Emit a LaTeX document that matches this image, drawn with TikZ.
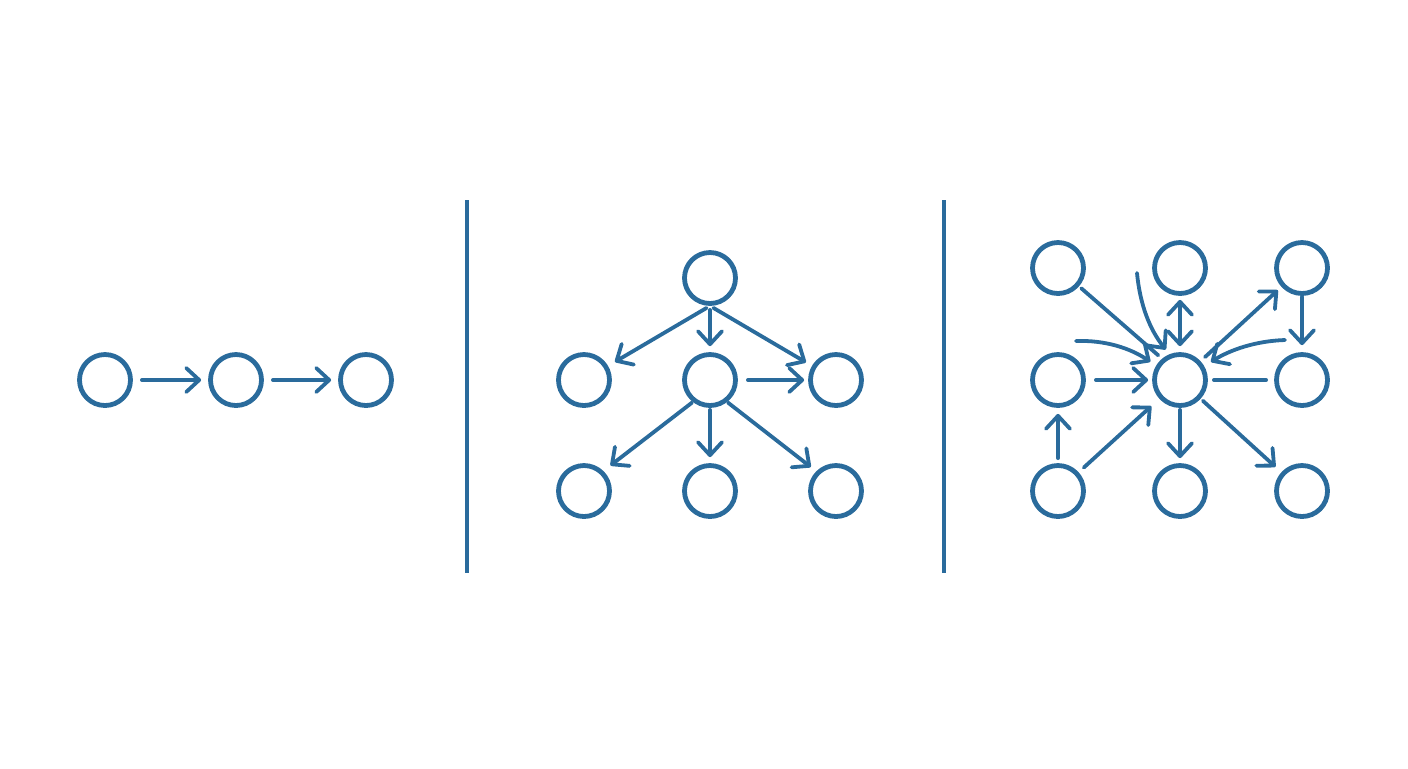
\documentclass[tikz,border=0pt]{standalone}
\usetikzlibrary{arrows.meta}
\definecolor{ink}{RGB}{42,107,156}
\begin{document}
\begin{tikzpicture}[x=0.5pt,y=-0.5pt,
  >={Straight Barb[length=6.5pt,width=12pt,line cap=round,line join=round]},
  nd/.style={circle,draw=ink,line width=2.4pt,minimum size=25.5pt,inner sep=0pt},
  ln/.style={draw=ink,line width=1.9pt,line cap=round},
  ar/.style={ln,->},
  dv/.style={draw=ink,line width=1.6pt}]
\useasboundingbox (0,0) rectangle (1408,768);

% panel 1
\node[nd] (a1) at (105,380) {};
\node[nd] (a2) at (236,380) {};
\node[nd] (a3) at (366,380) {};
\draw[ar,shorten <=4.5pt,shorten >=3.5pt] (a1) -- (a2);
\draw[ar,shorten <=4.5pt,shorten >=3.5pt] (a2) -- (a3);

% dividers
\coordinate (d1t) at (467,200); \coordinate (d1b) at (467,573);
\coordinate (d2t) at (944,200); \coordinate (d2b) at (944,573);
\draw[dv] (d1t) -- (d1b);
\draw[dv] (d2t) -- (d2b);

% panel 2
\node[nd] (t)  at (710,278) {};
\node[nd] (ml) at (584,380) {};
\node[nd] (mm) at (710,380) {};
\node[nd] (mr) at (836,380) {};
\node[nd] (bl) at (584,491) {};
\node[nd] (bm) at (710,491) {};
\node[nd] (br) at (836,491) {};
\draw[ar,shorten <=2pt,shorten >=4pt] (t.south) -- (ml);
\draw[ar,shorten <=2pt,shorten >=3pt] (t.south) -- (mm);
\draw[ar,shorten <=2pt,shorten >=3.5pt] (t.south) -- (mr);
\draw[ar,shorten <=5pt,shorten >=2pt] (mm) -- (mr);
\draw[ar,shorten <=0.5pt,shorten >=4.5pt] (mm.232) -- (bl.46);
\draw[ar,shorten <=1pt,shorten >=3pt] (mm) -- (bm);
\draw[ar,shorten <=0.5pt,shorten >=3.5pt] (mm.-52) -- (br.135);

% panel 3
\node[nd] (p11) at (1058,268) {};
\node[nd] (p12) at (1180,268) {};
\node[nd] (p13) at (1302,268) {};
\node[nd] (p21) at (1058,380) {};
\node[nd] (c)   at (1180,380) {};
\node[nd] (p23) at (1302,380) {};
\node[nd] (p31) at (1058,491) {};
\node[nd] (p32) at (1180,491) {};
\node[nd] (p33) at (1302,491) {};

\coordinate (ctop) at (1137,273);
\coordinate (cleft) at (1076,341);
\coordinate (cright) at (1285,340);

\draw[ln,shorten <=1.5pt,shorten >=2.5pt] (p11) -- (c.130);
\draw[ar,shorten >=3pt] (ctop) .. controls (1140,305) and (1150,330) .. (c.112);
\draw[ar,shorten >=3.5pt] (cleft) .. controls (1105,340) and (1130,348) .. (c.149);
\draw[ar,shorten >=4pt] (cright) .. controls (1255,341) and (1230,350) .. (c.30);
\draw[ln,<->,shorten <=2pt,shorten >=3pt] (p12) -- (c);
\draw[ar,shorten <=3pt,shorten >=2.5pt] (c) -- (p13);
\draw[ar,shorten <=0.5pt,shorten >=3.5pt] (p13) -- (p23);
\draw[ln,shorten <=4pt,shorten >=3pt] (p23) -- (c);
\draw[ar,shorten <=5pt,shorten >=2pt] (p21) -- (c);
\draw[ar,shorten <=2.5pt,shorten >=3pt] (p31) -- (p21);
\draw[ar,shorten <=3.5pt,shorten >=5.5pt] (p31) -- (c);
\draw[ar,shorten <=1pt,shorten >=2.5pt] (c) -- (p32);
\draw[ar,shorten <=1.5pt,shorten >=4pt] (c) -- (p33);
\end{tikzpicture}
\end{document}
